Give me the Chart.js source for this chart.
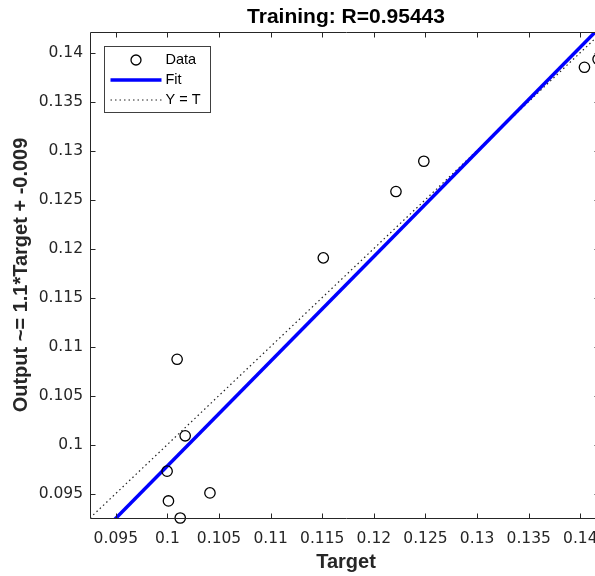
<!DOCTYPE html>
<html>
<head>
<meta charset="utf-8">
<script src="https://cdn.jsdelivr.net/npm/chart.js@4"></script>
<style>
  html, body { margin: 0; padding: 0; background: #fff; overflow: hidden; width: 595px; height: 576px; }
  #wrap { width: 595px; height: 576px; overflow: hidden; position: relative; }
  canvas { display: block; position: absolute; left: 0; top: 0; }
</style>
</head>
<body>
<div id="wrap"><canvas id="regChart" width="660" height="576"></canvas></div>
<script>
// values
const targets = [0.14040, 0.14172, 0.12484, 0.12214, 0.11510, 0.10094, 0.10172, 0.09997, 0.10010, 0.10412, 0.10124];
const outputs = [0.13850, 0.13932, 0.12891, 0.12582, 0.11905, 0.10870, 0.10089, 0.09728, 0.09424, 0.09506, 0.09250];
const fitX = [0.0925, 0.1421];
const fitY = [0.0898, 0.1428];
const identX = [0.0925, 0.1421];
const identY = [0.0925, 0.1421];
const axisMin = 0.0925, axisMax = 0.1421, tickStep = 0.005;

const titleText = 'Training: R=0.95443';
const xTitle = 'Target';
const yTitle = 'Output ~= 1.1*Target + -0.009';
const legendLabels = ['Data', 'Fit', 'Y = T'];

const pairs = (xs, ys) => xs.map((x, i) => ({ x, y: ys[i] }));
const tickFmt = v => String(+v.toFixed(4));

// inward ticks, box frame, title over the axes and in-axes legend, MATLAB style
const matlabAxes = {
    id: 'matlabAxes',
    afterDraw(chart) {
        const { ctx, chartArea: a, scales: { x, y } } = chart;
        const L = Math.round(a.left) + 0.5, R = Math.round(a.right) + 0.5;
        const T = Math.round(a.top) + 0.5, B = Math.round(a.bottom) + 0.5;
        ctx.save();
        ctx.strokeStyle = '#262626';
        ctx.lineWidth = 1;
        ctx.beginPath();
        x.ticks.forEach(t => {
            const px = Math.round(x.getPixelForValue(t.value)) + 0.5;
            ctx.moveTo(px, B); ctx.lineTo(px, B - 5);
            ctx.moveTo(px, T); ctx.lineTo(px, T + 5);
        });
        y.ticks.forEach(t => {
            const py = Math.round(y.getPixelForValue(t.value)) + 0.5;
            ctx.moveTo(L, py); ctx.lineTo(L + 5, py);
            ctx.moveTo(R, py); ctx.lineTo(R - 8, py);
        });
        // left, top and bottom edges; the right edge lies outside the picture
        ctx.moveTo(R, T); ctx.lineTo(L, T); ctx.lineTo(L, B); ctx.lineTo(R, B);
        ctx.stroke();

        // title, centred over the axes
        ctx.fillStyle = '#000';
        ctx.font = 'bold 21px "Liberation Sans", Arial, sans-serif';
        ctx.textAlign = 'center';
        ctx.textBaseline = 'middle';
        ctx.fillText(titleText, (a.left + a.right) / 2, 17);

        // legend box
        const ds = chart.data.datasets;
        const bx = L + 14, by = T + 14, bw = 106, bh = 66;
        ctx.fillStyle = '#fff';
        ctx.fillRect(bx, by, bw, bh);
        ctx.strokeStyle = '#404040';
        ctx.strokeRect(bx, by, bw, bh);
        ctx.font = '14.5px "Liberation Sans", Arial, sans-serif';
        ctx.textAlign = 'left';
        const rows = [by + 13.5, by + 33.5, by + 53.5];
        ctx.beginPath();
        ctx.lineWidth = ds[2].borderWidth;
        ctx.strokeStyle = ds[2].borderColor;
        ctx.arc(bx + 31.5, rows[0], 5, 0, Math.PI * 2);
        ctx.stroke();
        ctx.beginPath();
        ctx.lineWidth = ds[1].borderWidth;
        ctx.strokeStyle = ds[1].borderColor;
        ctx.moveTo(bx + 6, rows[1]); ctx.lineTo(bx + 57, rows[1]);
        ctx.stroke();
        ctx.beginPath();
        ctx.lineWidth = 1;
        ctx.strokeStyle = ds[0].borderColor;
        ctx.setLineDash(ds[0].borderDash);
        ctx.moveTo(bx + 6, rows[2]); ctx.lineTo(bx + 57, rows[2]);
        ctx.stroke();
        ctx.setLineDash([]);
        ctx.fillStyle = '#000';
        legendLabels.forEach((s, i) => ctx.fillText(s, bx + 61, rows[i]));
        ctx.restore();
    }
};

new Chart(document.getElementById('regChart'), {
    type: 'scatter',
    data: {
        datasets: [
            {
                label: legendLabels[2], type: 'line', data: pairs(identX, identY),
                borderColor: '#222222', borderWidth: 1.2, borderDash: [1.5, 3],
                pointRadius: 0, fill: false, order: 3
            },
            {
                label: legendLabels[1], type: 'line', data: pairs(fitX, fitY),
                borderColor: '#0000ff', borderWidth: 3.5,
                pointRadius: 0, fill: false, order: 2
            },
            {
                label: legendLabels[0], data: pairs(targets, outputs),
                pointStyle: 'circle', pointRadius: 5.2, pointHoverRadius: 5.2,
                backgroundColor: 'rgba(0,0,0,0)', borderColor: '#000000', borderWidth: 1.3,
                clip: false, order: 1
            }
        ]
    },
    options: {
        responsive: false, animation: false,
        // canvas is wider than the picture: the axes box runs past its right edge
        layout: { padding: { left: 0, right: 58, top: 32, bottom: 0 } },
        plugins: {
            legend: { display: false },
            tooltip: { enabled: false },
            title: { display: false }
        },
        scales: {
            x: {
                type: 'linear', min: axisMin, max: axisMax,
                grid: { display: false, drawTicks: false },
                border: { display: false },
                ticks: {
                    stepSize: tickStep, includeBounds: false, padding: 12, maxRotation: 0,
                    color: '#262626', callback: tickFmt,
                    font: { family: '"DejaVu Sans", sans-serif', size: 15.5 }
                },
                title: {
                    display: true, text: xTitle, color: '#262626',
                    font: { family: '"Liberation Sans", Arial, sans-serif', size: 20, weight: 'bold', lineHeight: 1.2 },
                    padding: { top: 0, bottom: 2 }
                },
                afterFit(s) { s.height = 58; }
            },
            y: {
                type: 'linear', min: axisMin, max: axisMax,
                grid: { display: false, drawTicks: false },
                border: { display: false },
                ticks: {
                    stepSize: tickStep, includeBounds: false, padding: 7,
                    color: '#262626', callback: tickFmt,
                    font: { family: '"DejaVu Sans", sans-serif', size: 15.5 }
                },
                title: {
                    display: true, text: yTitle, color: '#262626',
                    font: { family: '"Liberation Sans", Arial, sans-serif', size: 20, weight: 'bold', lineHeight: 1.2 },
                    padding: { top: 9.5, bottom: 0 }
                },
                afterFit(s) { s.width = 90; }
            }
        }
    },
    plugins: [matlabAxes]
});
</script>
</body>
</html>
